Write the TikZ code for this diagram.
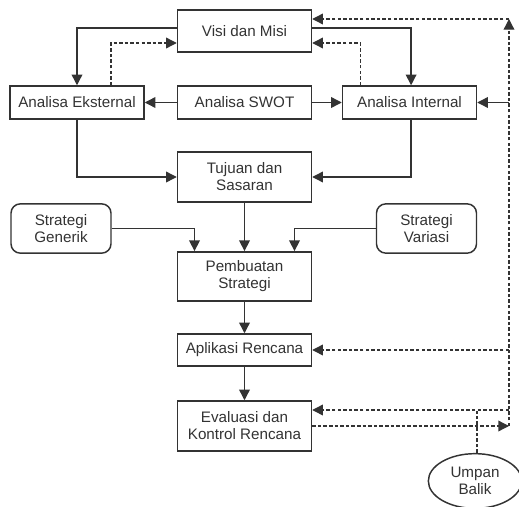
\documentclass[tikz,border=0pt]{standalone}
\usepackage{fontspec}
\setmainfont{Liberation Sans}
\usepackage{tikz}
\usetikzlibrary{shapes.geometric, arrows.meta}
\usepackage{xcolor}
\definecolor{garis}{HTML}{333333}

\tikzset{
    kotak/.style={draw=garis, line width=1.1pt, fill=white, align=center, text=garis,
        minimum width=100.5pt, inner sep=1pt,
        font=\fontsize{11.4}{12.8}\selectfont},
    bulat/.style={kotak, rounded corners=7pt, minimum width=75pt, minimum height=37pt},
    panah/.style={draw=garis, line width=1pt, -{Triangle[length=8pt,width=8pt]}},
    putus/.style={panah, dash pattern=on 2.6pt off 1.6pt},
    putusgaris/.style={draw=garis, line width=1pt, dash pattern=on 2.6pt off 1.6pt}
}

\begin{document}
\begin{tikzpicture}[x=0.75pt, y=-0.75pt]
    \useasboundingbox (0,0) rectangle (519,507);

    % kotak utama
    \node[kotak, minimum height=31.5pt] (visi) at (244.5,31) {Visi dan Misi};
    \node[kotak, minimum height=24.75pt] (ekst) at (77,102.5) {Analisa Eksternal};
    \node[kotak, minimum height=24.75pt] (swot) at (244.5,102.5) {Analisa SWOT};
    \node[kotak, minimum height=24.75pt] (intern) at (409.5,102.5) {Analisa Internal};
    \node[kotak, minimum height=37.5pt] (tujuan) at (244.5,177) {Tujuan dan\\Sasaran};
    \node[bulat] (generik) at (61,228.5) {Strategi\\Generik};
    \node[bulat] (variasi) at (426.5,228.5) {Strategi\\Variasi};
    \node[kotak, minimum height=37pt] (pembuatan) at (244.5,276.5) {Pembuatan\\Strategi};
    \node[kotak, minimum height=24pt] (aplikasi) at (244.5,350) {Aplikasi Rencana};
    \node[kotak, minimum height=37.5pt] (evaluasi) at (244.5,426) {Evaluasi dan\\Kontrol Rencana};
    \node[kotak, ellipse, minimum width=70pt, minimum height=41pt] (umpan) at (475,481) {Umpan\\Balik};

    % jalur umpan balik di kanan
    \coordinate (atas) at (509,19);
    \coordinate (bawah) at (509,426);

    % visi ke analisa
    \draw[panah] ([yshift=2.25pt]visi.west) -| (ekst.north);
    \draw[panah] ([yshift=2.25pt]visi.east) -| ([xshift=1.2pt]intern.north);
    \draw[putus] ([xshift=25.5pt]ekst.north) |- ([yshift=-9pt]visi.west);
    \draw[putus] ([xshift=-37pt]intern.north) |- ([yshift=-9pt]visi.east);

    % SWOT
    \draw[panah] (swot) -- (ekst);
    \draw[panah] (swot) -- (intern);

    % ke tujuan
    \draw[panah] (ekst.south) |- (tujuan.west);
    \draw[panah] ([xshift=1.2pt]intern.south) |- (tujuan.east);

    % strategi
    \draw[panah] (tujuan) -- (pembuatan);
    \draw[panah] (generik.east) -| ([xshift=-37.5pt]pembuatan.north);
    \draw[panah] (variasi.west) -| ([xshift=37.5pt]pembuatan.north);
    \draw[panah] (pembuatan) -- (aplikasi);
    \draw[panah] (aplikasi) -- (evaluasi);

    % umpan balik
    \draw[putus] (evaluasi.east) -- (bawah);
    \draw[putus] (bawah) -- (atas);
    \draw[putus] (atas) -- (atas -| visi.east);
    \draw[panah] (atas |- intern.east) -- (intern.east);
    \draw[putus] (atas |- aplikasi.east) -- (aplikasi.east);
    \draw[putus] ([yshift=12pt]bawah) -- ([yshift=12pt]evaluasi.east);
    \draw[putusgaris] ([xshift=1.5pt]umpan.north) -- ++(0,-42);
\end{tikzpicture}
\end{document}
